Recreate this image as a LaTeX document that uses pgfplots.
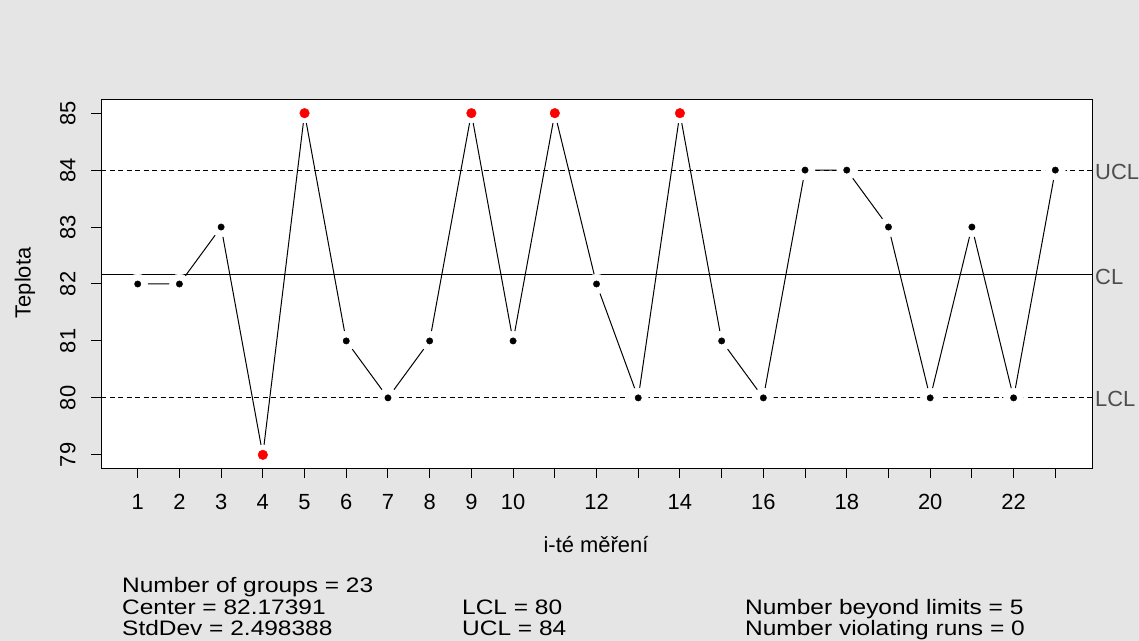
\documentclass[border=0pt]{standalone}
\usepackage{fontspec}
\setmainfont{Liberation Sans}
\newfontfamily\statfont[FakeStretch=1.17]{Liberation Sans}
\usepackage{pgfplots}
\pgfplotsset{compat=1.18}
\definecolor{bg}{HTML}{E5E5E5}
\definecolor{limtxt}{HTML}{4D4D4D}
\pgfplotstableread{
x y
1 82
2 82
3 83
4 79
5 85
6 81
7 80
8 81
9 85
10 81
11 85
12 82
13 80
14 85
15 81
16 80
17 84
18 84
19 83
20 80
21 83
22 80
23 84
}\data
\pgfplotstableread{
x y
4 79
5 85
9 85
11 85
14 85
}\beyond
\begin{document}
\begin{tikzpicture}[x=1bp,y=1bp]
\useasboundingbox (0,0) rectangle (1139,641);
\fill[bg] (0,0) rectangle (1139,641);
\begin{axis}[
  at={(101bp,172.5bp)}, anchor=south west,
  scale only axis, width=991bp, height=369bp,
  xmin=0.12, xmax=23.88, ymin=78.76, ymax=85.24,
  axis background/.style={fill=white},
  axis line style={black, line width=1bp},
  tick align=outside, tick pos=left,
  major tick length=10bp,
  tick style={black, line width=1bp},
  xtick={1,...,23},
  xticklabels={1,2,3,4,5,6,7,8,9,10,,12,,14,,16,,18,,20,,22,},
  ytick={79,80,81,82,83,84,85},
  /pgf/number format/assume math mode=true,
  ticklabel style={font=\fontsize{22}{22}\selectfont},
  xticklabel style={yshift=-12bp},
  yticklabel style={rotate=90, anchor=south, yshift=12bp},
  clip=false,
]
\addplot[black, line width=1bp] table[x=x,y=y] {\data};
\addplot[only marks, mark=*, mark size=10bp, white, mark options={draw=white, fill=white}] table[x=x,y=y] {\data};
\addplot[black, line width=1bp, dash pattern=on 5bp off 3.5bp] coordinates {(0.12,84) (23.88,84)};
\addplot[black, line width=1bp, dash pattern=on 5bp off 3.5bp] coordinates {(0.12,80) (23.88,80)};
\addplot[black, line width=1bp] coordinates {(0.12,82.17391) (23.88,82.17391)};
\addplot[only marks, mark=*, mark size=3.2bp, black] table[x=x,y=y] {\data};
\addplot[only marks, mark=*, mark size=4.8bp, red, mark options={draw=red, fill=red}] table[x=x,y=y] {\beyond};
\end{axis}
\begin{scope}[font=\fontsize{22}{22}\selectfont]
\node[anchor=west, text=limtxt, inner sep=0pt] at (1095,469) {UCL};
\node[anchor=west, text=limtxt, inner sep=0pt] at (1095,364) {CL};
\node[anchor=west, text=limtxt, inner sep=0pt] at (1095,242) {LCL};
\node[inner sep=0pt] at (596,96) {i-té měření};
\node[inner sep=0pt, rotate=90] at (25,358) {Teplota};
\end{scope}
\begin{scope}[font=\statfont\fontsize{21}{21}\selectfont]
\node[anchor=base west, inner sep=0pt] at (122,48) {Number of groups = 23};
\node[anchor=base west, inner sep=0pt] at (122,26.5) {Center = 82.17391};
\node[anchor=base west, inner sep=0pt] at (122,5) {StdDev = 2.498388};
\node[anchor=base west, inner sep=0pt] at (462,26.5) {LCL = 80};
\node[anchor=base west, inner sep=0pt] at (462,5) {UCL = 84};
\node[anchor=base west, inner sep=0pt] at (745,26.5) {Number beyond limits = 5};
\node[anchor=base west, inner sep=0pt] at (745,5) {Number violating runs = 0};
\end{scope}
\end{tikzpicture}
\end{document}
